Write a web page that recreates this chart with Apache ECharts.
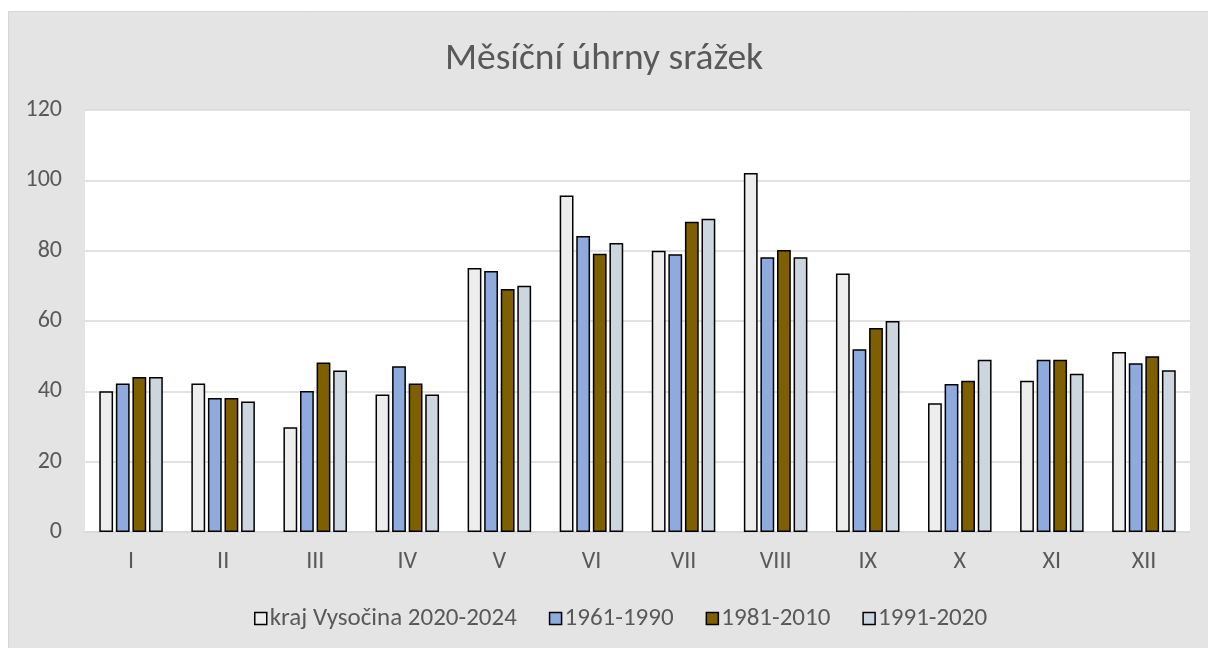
<!DOCTYPE html>
<html>
<head>
<meta charset="utf-8">
<script src="https://cdn.jsdelivr.net/npm/echarts@6/dist/echarts.min.js"></script>
<style>
html,body{margin:0;padding:0;background:#fff;}
#c{width:1208px;height:648px;}
</style>
</head>
<body>
<div id="c"></div>
<script>
var categories = ['I','II','III','IV','V','VI','VII','VIII','IX','X','XI','XII'];
var seriesNames = ['kraj Vysočina 2020-2024','1961-1990','1981-2010','1991-2020'];
var vysocina2020_2024 = [40, 42.2, 29.8, 39.1, 75.1, 95.7, 80, 102.1, 73.5, 36.6, 43, 51.2];
var n1961_1990 = [42.2, 38.1, 40.1, 47.1, 74.2, 84.2, 79, 78.1, 52, 42.1, 49, 48];
var n1981_2010 = [44.1, 38.1, 48.2, 42.2, 69.1, 79.1, 88.2, 80.2, 58, 43, 49, 50];
var n1991_2020 = [44.1, 37.1, 45.9, 39.1, 70, 82.2, 89.1, 78.1, 60, 49, 45, 46];
var yTicks = [0, 20, 40, 60, 80, 100, 120];

var colors = ['#ededed', '#8faadc', '#7f6000', '#cdd5df'];
var dataSets = [vysocina2020_2024, n1961_1990, n1981_2010, n1991_2020];
var FONT = 'Carlito, Lato, "Open Sans", sans-serif';

var chart = echarts.init(document.getElementById('c'), null, {renderer: 'canvas'});
var series = dataSets.map(function (d, i) {
  return {
    name: seriesNames[i],
    type: 'bar',
    data: d,
    barGap: '20%',
    barCategoryGap: '31%',
    itemStyle: {color: colors[i], borderColor: '#000', borderWidth: 1.5},
    emphasis: {disabled: true}
  };
});

chart.setOption({
  animation: false,
  backgroundColor: '#fff',
  graphic: [{
    type: 'rect', z: -100, silent: true,
    shape: {x: 8.5, y: 11.5, width: 1210, height: 650},
    style: {fill: '#e4e4e4', stroke: '#d6d6d6', lineWidth: 1}
  }],
  title: {
    text: 'Měsíční úhrny srážek',
    left: 'center',
    top: 36,
    textStyle: {fontFamily: FONT, fontSize: 37.5, fontWeight: 'normal', color: '#595959'}
  },
  legend: {
    top: 601,
    left: 249,
    icon: 'rect',
    itemWidth: 12,
    itemHeight: 12,
    itemGap: 32,
    data: seriesNames,
    itemStyle: {borderColor: '#000', borderWidth: 1.5},
    textStyle: {fontFamily: FONT, fontSize: 25, color: '#595959', padding: [0, 0, 0, -2]}
  },
  grid: {
    left: 85, right: 18, top: 110, bottom: 116,
    show: true, backgroundColor: '#fff', borderWidth: 0
  },
  xAxis: {
    type: 'category',
    data: categories,
    axisLine: {show: true, lineStyle: {color: '#d9d9d9', width: 1.5}},
    axisTick: {show: false},
    axisLabel: {fontFamily: FONT, fontSize: 24, color: '#595959', margin: 18}
  },
  yAxis: {
    type: 'value',
    min: yTicks[0],
    max: yTicks[yTicks.length - 1],
    interval: yTicks[1] - yTicks[0],
    axisLine: {show: false},
    axisTick: {show: false},
    splitLine: {lineStyle: {color: '#d9d9d9', width: 1.5}},
    axisLabel: {fontFamily: FONT, fontSize: 24, color: '#595959', margin: 23}
  },
  series: series
});
</script>
</body>
</html>
